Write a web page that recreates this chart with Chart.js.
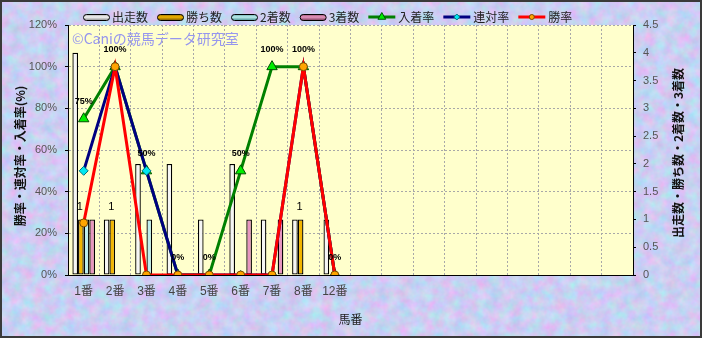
<!DOCTYPE html>
<html><head><meta charset="utf-8">
<script src="https://cdn.jsdelivr.net/npm/chart.js@4.4.1/dist/chart.umd.min.js"></script>
<style>
html,body{margin:0;padding:0;background:#c6cff2;}
#wrap{position:relative;width:702px;height:338px;overflow:hidden;background-color:#c6cff2;}
canvas{display:block;}
</style></head><body>
<div id="wrap"><canvas id="c" width="702" height="338"></canvas></div>
<script>
// ---- data ----
const horses = ['1番','2番','3番','4番','5番','6番','7番','8番','12番'];
const emptySlots = 9;
const runs    = [4,1,2,2,1,2,1,1,1];
const wins    = [1,1,0,0,0,0,0,1,0];
const seconds = [1,0,1,0,0,0,0,0,0];
const thirds  = [1,0,0,0,0,1,1,0,0];
const placeRate  = [75,100,50,0,0,50,100,100,0];
const rentaiRate = [50,100,50,0,0,0,0,100,0];
const winRate    = [25,100,0,0,0,0,0,100,0];
const leftMax = 120, leftStep = 20;
const rightMax = 4.5, rightStep = 0.5;

// ---- textured background (deterministic turbulence) ----
const svg = "<svg xmlns='http://www.w3.org/2000/svg' width='702' height='338'>" +
  "<filter id='n' color-interpolation-filters='sRGB'><feTurbulence type='fractalNoise' baseFrequency='0.09' numOctaves='3' seed='7'/>" +
  "<feColorMatrix values='0.35 0 0 0 0.62  -0.18 0.18 0 0 0.81  0 0 0.12 0 0.89  0 0 0 0 1'/></filter>" +
  "<rect width='100%' height='100%' filter='url(#n)'/></svg>";
document.getElementById('wrap').style.backgroundImage = 'url("data:image/svg+xml,' + encodeURIComponent(svg) + '")';

const JP = '"Noto Sans CJK JP"';
const LAT = '"Liberation Sans", "Noto Sans CJK JP"';

const labels = horses.concat(Array(emptySlots).fill(''));

const deco = {
  id: 'deco',
  beforeDraw(chart) {
    const {ctx, chartArea: a} = chart;
    ctx.save();
    ctx.fillStyle = '#ffffcc';
    ctx.fillRect(a.left, a.top, a.right - a.left, a.bottom - a.top);
    ctx.restore();
  },
  beforeDatasetsDraw(chart) {
    const {ctx, chartArea: a} = chart;
    ctx.save();
    ctx.font = '14px ' + JP;
    ctx.fillStyle = 'rgb(150,150,238)';
    ctx.textBaseline = 'middle';
    ctx.textAlign = 'left';
    ctx.fillText('©Caniの競馬データ研究室', a.left + 4, 39);
    ctx.restore();
  },
  afterDatasetsDraw(chart) {
    const ctx = chart.ctx;
    ctx.save();
    // rate labels on 入着率
    const lm = chart.getDatasetMeta(4);
    ctx.font = 'bold 9px ' + LAT;
    ctx.fillStyle = '#000';
    ctx.textAlign = 'center';
    ctx.textBaseline = 'middle';
    lm.data.forEach((p, i) => {
      ctx.fillText(placeRate[i] + '%', p.x, p.y - 17);
    });
    // wins labels
    const bm = chart.getDatasetMeta(1);
    ctx.font = '11px ' + LAT;
    bm.data.forEach((b, i) => {
      if (wins[i] > 0) ctx.fillText(String(wins[i]), b.x - 1, b.y - 12);
    });
    ctx.restore();
  },
  afterDraw(chart) {
    const ctx = chart.ctx;
    ctx.save();
    // legend
    const ds = chart.data.datasets;
    let x = 83;
    const cy = 17;
    ctx.textBaseline = 'middle';
    ctx.textAlign = 'left';
    ds.forEach(d => {
      if (d.type === 'bar') {
        const w = 26, h = 6, y0 = cy - 3;
        const g = ctx.createLinearGradient(0, y0, 0, y0 + h);
        g.addColorStop(0, d.legendDark);
        g.addColorStop(0.5, d.backgroundColor);
        g.addColorStop(1, d.legendDark);
        ctx.beginPath();
        if (ctx.roundRect) ctx.roundRect(x + 0.5, y0 + 0.5, w, h, 3); else ctx.rect(x + 0.5, y0 + 0.5, w, h);
        ctx.fillStyle = g;
        ctx.fill();
        ctx.lineWidth = 1;
        ctx.strokeStyle = '#000';
        ctx.stroke();
        x += w + 3;
      } else {
        const w = 27;
        ctx.beginPath();
        ctx.moveTo(x, cy); ctx.lineTo(x + w, cy);
        ctx.lineWidth = 3;
        ctx.strokeStyle = d.borderColor;
        ctx.stroke();
        ctx.fillStyle = d.pointBackgroundColor;
        ctx.strokeStyle = d.pointBorderColor;
        ctx.lineWidth = 1;
        Chart.helpers.drawPoint(ctx, {pointStyle: d.pointStyle, radius: d.pointRadius - 1.5, rotation: 0, borderWidth: 1}, x + w / 2, cy);
        x += w + 3;
      }
      ctx.fillStyle = '#222';
      ctx.font = '12px ' + JP;
      ctx.fillText(d.label, x, cy);
      x += ctx.measureText(d.label).width + 9;
    });
    // axis titles
    ctx.font = 'bold 12px ' + JP;
    ctx.fillStyle = '#111';
    ctx.textAlign = 'center';
    ctx.textBaseline = 'middle';
    ctx.save();
    ctx.translate(20, 156);
    ctx.rotate(-Math.PI / 2);
    ctx.fillText('勝率・連対率・入着率(%)', 0, 0);
    ctx.restore();
    ctx.save();
    ctx.translate(678, 153);
    ctx.rotate(-Math.PI / 2);
    ctx.fillText('出走数・勝ち数・2着数・3着数', 0, 0);
    ctx.restore();
    // outer border
    ctx.strokeStyle = '#3a3a3a';
    ctx.lineWidth = 2;
    ctx.strokeRect(1, 1, 700, 336);
    ctx.restore();
  }
};

const barCommon = {
  type: 'bar', yAxisID: 'yR', borderColor: '#000', borderWidth: 1.3, borderSkipped: false, inflateAmount: 0,
  categoryPercentage: 0.72, barPercentage: 1.0, order: 10
};

const chart = new Chart(document.getElementById('c'), {
  data: {
    labels: labels,
    datasets: [
      Object.assign({}, barCommon, {label: '出走数', data: runs, backgroundColor: '#f6f6f6', legendDark: '#9a9a9a'}),
      Object.assign({}, barCommon, {label: '勝ち数', data: wins, backgroundColor: '#f2b500', legendDark: '#8a6400'}),
      Object.assign({}, barCommon, {label: '2着数', data: seconds, backgroundColor: '#bdeeee', legendDark: '#5aa0a0'}),
      Object.assign({}, barCommon, {label: '3着数', data: thirds, backgroundColor: '#e896c0', legendDark: '#8a4a6a'}),
      {type: 'line', label: '入着率', data: placeRate, yAxisID: 'yL', borderColor: '#008000', borderWidth: 3,
        pointStyle: 'triangle', pointRadius: 6, pointBackgroundColor: '#00ee00', pointBorderColor: '#005000', pointBorderWidth: 1,
        tension: 0, order: 3},
      {type: 'line', label: '連対率', data: rentaiRate, yAxisID: 'yL', borderColor: '#000080', borderWidth: 3,
        pointStyle: 'rectRot', pointRadius: 4.5, pointBackgroundColor: '#00e8f0', pointBorderColor: '#007080', pointBorderWidth: 1,
        tension: 0, order: 2},
      {type: 'line', label: '勝率', data: winRate, yAxisID: 'yL', borderColor: '#ff0000', borderWidth: 3,
        pointStyle: 'circle', pointRadius: 4, pointBackgroundColor: '#ffa500', pointBorderColor: '#7a4a00', pointBorderWidth: 1,
        tension: 0, order: 1}
    ]
  },
  options: {
    responsive: false, animation: false, devicePixelRatio: 1,
    layout: {padding: {top: 25, left: 0, right: 0, bottom: 0}},
    plugins: {legend: {display: false}, tooltip: {enabled: false}, title: {display: false}},
    scales: {
      x: {
        type: 'category', offset: true,
        grid: {color: '#a8a8a8', lineWidth: 1, offset: true, drawTicks: false},
        border: {color: '#000', width: 1, dash: [2, 2]},
        ticks: {color: '#444', font: {family: LAT, size: 12}, padding: 9, autoSkip: false, maxRotation: 0},
        title: {display: true, text: '馬番', color: '#222', font: {family: JP, size: 12}, padding: {top: 0, bottom: 11}},
        afterFit(s) { s.height = 63; }
      },
      yL: {
        type: 'linear', position: 'left', min: 0, max: leftMax,
        grid: {color: '#a8a8a8', lineWidth: 1, tickLength: 3, tickColor: '#000'},
        border: {color: '#000', width: 1, dash: [2, 2]},
        ticks: {stepSize: leftStep, color: '#555', font: {family: LAT, size: 11}, padding: 8, callback: v => v + '%'},
        afterFit(s) { s.width = 68; }
      },
      yR: {
        type: 'linear', position: 'right', min: 0, max: rightMax,
        grid: {drawOnChartArea: false, tickLength: 3, tickColor: '#000', color: '#000'},
        border: {color: '#000', width: 1},
        ticks: {stepSize: rightStep, color: '#555', font: {family: LAT, size: 11}, padding: 7,
          callback: v => String(Math.round(v * 10) / 10)},
        afterFit(s) { s.width = 69; }
      }
    }
  },
  plugins: [deco]
});
</script>
</body></html>
